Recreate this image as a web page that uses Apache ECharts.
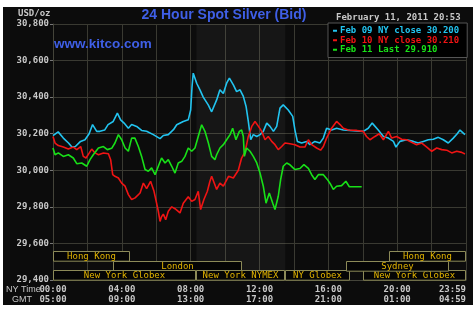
<!DOCTYPE html>
<html><head><meta charset="utf-8">
<script src="https://cdn.jsdelivr.net/npm/echarts@6/dist/echarts.min.js"></script>
<style>
html,body{margin:0;padding:0;background:#fff;width:476px;height:313px;overflow:hidden}
#c{position:absolute;left:3px;top:7px;width:470px;height:298px;}
</style>
</head><body><div id="c"></div>
<script>
// ---- data ----
const seriesNames = ['Feb 09 NY close 30.200', 'Feb 10 NY close 30.210', 'Feb 11 Last 29.910'];
const seriesColors = ['#22c4f0', '#f01414', '#18e018'];

const feb09 = [[0,30.19],[0.3,30.21],[0.6,30.176],[0.9,30.149],[1.1,30.127],[1.3,30.13],[1.6,30.158],[1.86,30.167],[2.1,30.2],[2.3,30.25],[2.54,30.213],[2.73,30.213],[3.0,30.22],[3.2,30.25],[3.5,30.267],[3.74,30.313],[3.93,30.276],[4.13,30.258],[4.38,30.23],[4.57,30.25],[4.86,30.24],[5.15,30.218],[5.44,30.213],[5.83,30.195],[6.22,30.173],[6.41,30.19],[6.7,30.195],[7.0,30.222],[7.19,30.249],[7.57,30.267],[7.86,30.276],[8.0,30.33],[8.08,30.458],[8.15,30.531],[8.35,30.476],[8.54,30.44],[8.73,30.40],[9.02,30.358],[9.22,30.32],[9.32,30.33],[9.51,30.385],[9.7,30.44],[9.9,30.42],[10.09,30.476],[10.25,30.504],[10.48,30.467],[10.67,30.43],[10.87,30.44],[11.06,30.404],[11.22,30.349],[11.35,30.267],[11.49,30.167],[11.64,30.195],[11.84,30.185],[12.03,30.195],[12.22,30.213],[12.42,30.258],[12.61,30.24],[12.81,30.213],[13.0,30.24],[13.19,30.34],[13.38,30.358],[13.67,30.33],[13.93,30.295],[14.06,30.22],[14.2,30.158],[14.45,30.149],[14.74,30.158],[14.93,30.14],[15.22,30.158],[15.51,30.149],[15.71,30.176],[15.9,30.23],[16.19,30.22],[16.48,30.23],[16.87,30.22],[17.26,30.218],[17.65,30.215],[18.03,30.213],[18.32,30.23],[18.55,30.258],[18.9,30.22],[19.2,30.185],[19.49,30.176],[19.78,30.158],[19.93,30.127],[20.16,30.158],[20.55,30.167],[20.94,30.158],[21.23,30.149],[21.52,30.158],[21.81,30.167],[22.1,30.17],[22.39,30.18],[22.68,30.167],[22.97,30.149],[23.26,30.176],[23.49,30.2],[23.65,30.22],[23.94,30.195]];

const feb10 = [[0,30.185],[0.12,30.149],[0.31,30.135],[0.6,30.127],[0.89,30.116],[1.18,30.127],[1.38,30.113],[1.61,30.13],[1.76,30.076],[1.92,30.067],[2.11,30.095],[2.25,30.116],[2.44,30.095],[2.64,30.085],[2.93,30.095],[3.22,30.09],[3.35,30.058],[3.47,29.976],[3.6,29.967],[3.8,29.958],[3.99,29.93],[4.19,29.913],[4.38,29.867],[4.57,29.84],[4.77,29.849],[5.06,29.876],[5.25,29.93],[5.44,29.9],[5.67,29.94],[5.87,29.885],[6.02,29.82],[6.12,29.776],[6.22,29.72],[6.3,29.745],[6.41,29.76],[6.55,29.73],[6.7,29.776],[6.9,29.8],[7.09,29.79],[7.38,29.767],[7.57,29.82],[7.86,29.855],[8.06,29.83],[8.25,29.84],[8.44,29.885],[8.58,29.785],[8.77,29.84],[8.97,29.885],[9.12,29.94],[9.22,29.967],[9.32,29.976],[9.51,29.895],[9.7,29.93],[9.9,29.913],[10.2,29.967],[10.48,29.958],[10.77,30.0],[10.96,30.067],[11.16,30.1],[11.35,30.185],[11.55,30.24],[11.74,30.267],[11.94,30.24],[12.13,30.213],[12.32,30.167],[12.51,30.185],[12.71,30.158],[12.9,30.14],[13.09,30.113],[13.29,30.13],[13.48,30.149],[13.77,30.145],[14.06,30.14],[14.35,30.127],[14.64,30.127],[14.84,30.167],[15.03,30.14],[15.32,30.122],[15.55,30.11],[15.71,30.13],[15.9,30.176],[16.19,30.23],[16.48,30.267],[16.68,30.25],[16.87,30.23],[17.16,30.22],[17.65,30.218],[18.03,30.213],[18.22,30.185],[18.42,30.167],[18.71,30.185],[18.96,30.2],[19.2,30.167],[19.49,30.213],[19.68,30.176],[19.97,30.185],[20.26,30.17],[20.55,30.167],[20.84,30.153],[21.13,30.14],[21.43,30.149],[21.72,30.127],[22.01,30.104],[22.3,30.122],[22.59,30.113],[22.88,30.11],[23.17,30.095],[23.46,30.104],[23.75,30.098],[23.94,30.089]];

const feb11 = [[0,30.122],[0.12,30.085],[0.31,30.095],[0.6,30.076],[0.89,30.085],[1.18,30.067],[1.38,30.036],[1.67,30.04],[1.96,30.022],[2.15,30.058],[2.34,30.085],[2.64,30.122],[2.93,30.13],[3.16,30.113],[3.41,30.12],[3.6,30.149],[3.8,30.195],[3.99,30.167],[4.19,30.122],[4.38,30.104],[4.57,30.176],[4.76,30.176],[4.96,30.13],[5.15,30.076],[5.35,30.004],[5.54,29.995],[5.73,30.013],[5.93,29.976],[6.12,30.022],[6.31,30.067],[6.51,30.04],[6.7,30.058],[6.9,30.022],[7.09,29.985],[7.28,30.04],[7.48,30.049],[7.67,30.076],[7.86,30.122],[8.06,30.104],[8.25,30.122],[8.44,30.185],[8.64,30.249],[8.83,30.213],[9.03,30.149],[9.22,30.076],[9.41,30.058],[9.51,30.085],[9.7,30.122],[9.9,30.14],[10.09,30.167],[10.29,30.195],[10.44,30.23],[10.63,30.167],[10.83,30.213],[10.96,30.22],[11.06,30.185],[11.12,30.076],[11.25,30.122],[11.45,30.104],[11.64,30.076],[11.84,30.04],[12.03,29.985],[12.22,29.913],[12.38,29.82],[12.57,29.876],[12.77,29.82],[12.9,29.785],[13.09,29.858],[13.23,29.95],[13.38,30.022],[13.58,30.04],[13.77,30.03],[14.06,30.004],[14.35,30.01],[14.58,30.031],[14.84,30.01],[15.03,29.976],[15.22,29.95],[15.42,29.976],[15.71,29.976],[15.94,29.95],[16.14,29.922],[16.29,29.895],[16.48,29.913],[16.77,29.916],[17.02,29.94],[17.22,29.91],[17.55,29.91],[17.94,29.91]];

const timeLabelsNY  = ['00:00', '04:00', '08:00', '12:00', '16:00', '20:00', '23:59'];
const timeLabelsGMT = ['05:00', '09:00', '13:00', '17:00', '21:00', '01:00', '04:59'];

// session boxes: [start hour, end hour, row (0 = bottom)]
const sessionNames = ['Hong Kong', 'London', 'New York Globex', 'New York NYMEX', 'NY Globex', 'New York Globex', 'Sydney', 'Hong Kong'];
const sessionSpans = [[0, 4.5, 2], [3.5, 11.0, 1], [0, 8.333, 0], [8.333, 13.5, 0], [13.5, 17.25, 0], [18, 24, 0], [17, 23, 1], [19.5, 24, 2]];
const nymexHours = [8.333, 13.5];

// ---- chart ----
const MONO = '"DejaVu Sans Mono", monospace';
const SANS = '"Liberation Sans", Arial, sans-serif';
const chart = echarts.init(document.getElementById('c'), null, {renderer: 'canvas'});

const lineSeries = [feb09, feb10, feb11].map((d, i) => ({
  name: seriesNames[i],
  type: 'line',
  data: d,
  symbol: 'none',
  z: 3 + i,
  lineStyle: {color: seriesColors[i], width: 1.6},
  itemStyle: {color: seriesColors[i]},
  animation: false
}));
lineSeries[0].markArea = {
  silent: true,
  itemStyle: {color: 'rgba(255,255,255,0.045)'},
  data: [[{xAxis: nymexHours[0]}, {xAxis: nymexHours[1]}]]
};

const option = {
  backgroundColor: '#0c0c0c',
  animation: false,
  grid: {left: 50, right: 7, top: 17, bottom: 25},
  legend: {
    left: 325, top: 16,
    orient: 'vertical',
    padding: [3, 8, 3, 5],
    itemGap: 0,
    itemWidth: 4, itemHeight: 2,
    icon: 'rect',
    backgroundColor: '#000',
    borderColor: '#555',
    borderWidth: 1,
    selectedMode: false,
    data: seriesNames.map((n, i) => ({name: n, textStyle: {color: seriesColors[i]}})),
    textStyle: {fontFamily: MONO, fontSize: 9, fontWeight: 'bold', lineHeight: 9.5, padding: [0, 0, 0, -2]}
  },
  xAxis: {
    type: 'value', min: 0, max: 24, interval: 2,
    axisLine: {show: true, lineStyle: {color: '#44443a'}},
    axisTick: {show: false},
    splitLine: {show: true, lineStyle: {color: '#3a3a32', width: 1}},
    axisLabel: {
      color: '#c8c8c8', fontFamily: MONO, fontSize: 9, fontWeight: 'bold',
      lineHeight: 10, margin: 5, showMaxLabel: true, showMinLabel: true,
      alignMaxLabel: 'right',
      formatter: v => {
        if (v % 4 !== 0) return '';
        const k = v / 4;
        return timeLabelsNY[k] + '\n' + timeLabelsGMT[k];
      }
    }
  },
  yAxis: {
    type: 'value', min: 29.4, max: 30.8, interval: 0.2,
    axisLine: {show: true, lineStyle: {color: '#44443a'}},
    axisTick: {show: true, length: 3, lineStyle: {color: '#777'}},
    splitLine: {show: true, lineStyle: {color: '#3a3a32', width: 1}},
    axisLabel: {
      color: '#c8c8c8', fontFamily: MONO, fontSize: 9, fontWeight: 'bold', margin: 4,
      formatter: v => v.toFixed(3).replace('.', ',')
    }
  },
  series: lineSeries.concat([{
    type: 'custom',
    silent: true,
    z: 10,
    clip: false,
    data: sessionSpans,
    encode: {x: [0, 1], y: 2},
    renderItem: (params, api) => {
      const s = api.value(0), e = api.value(1), row = api.value(2);
      const p0 = api.coord([s, 29.4]);
      const p1 = api.coord([e, 29.4]);
      const rowH = 9.7;
      const y = Math.round(p0[1] - (row + 1) * rowH) + 0.5;
      const x0 = Math.round(p0[0]) + 0.5, x1 = Math.round(p1[0]) - 0.5;
      return {
        type: 'group',
        children: [
          {type: 'rect', shape: {x: x0, y: y, width: x1 - x0, height: rowH},
           style: {fill: '#050505', stroke: '#8c8a58', lineWidth: 1}},
          {type: 'text', style: {text: sessionNames[params.dataIndex], x: (x0 + x1) / 2, y: y + rowH / 2 + 0.5,
            align: 'center', verticalAlign: 'middle', fill: '#e2b400', font: '9px ' + MONO}}
        ]
      };
    }
  }]),
  graphic: [
    {type: 'text', left: 15, top: 2, style: {text: 'USD/oz', fill: '#c8c8c8', font: 'bold 9px ' + MONO}},
    {type: 'text', x: 221, y: 8, style: {text: '24 Hour Spot Silver (Bid)', fill: '#3f5fe6', font: 'bold 14px ' + SANS, align: 'center', verticalAlign: 'middle'}},
    {type: 'text', x: 333, y: 11, style: {text: 'February 11, 2011 20:53', fill: '#c8c8c8', font: 'bold 9px ' + MONO, verticalAlign: 'middle'}},
    {type: 'text', x: 51, y: 37, style: {text: 'www.kitco.com', fill: '#3f5fe6', font: 'bold 13.5px ' + SANS, verticalAlign: 'middle'}, z: 20},
    {type: 'text', x: 3, y: 283, style: {text: 'NY Time', fill: '#c8c8c8', font: '9px ' + SANS, verticalAlign: 'middle'}},
    {type: 'text', x: 9, y: 293, style: {text: 'GMT', fill: '#c8c8c8', font: '9px ' + SANS, verticalAlign: 'middle'}}
  ]
};
chart.setOption(option);
</script>
</body></html>
